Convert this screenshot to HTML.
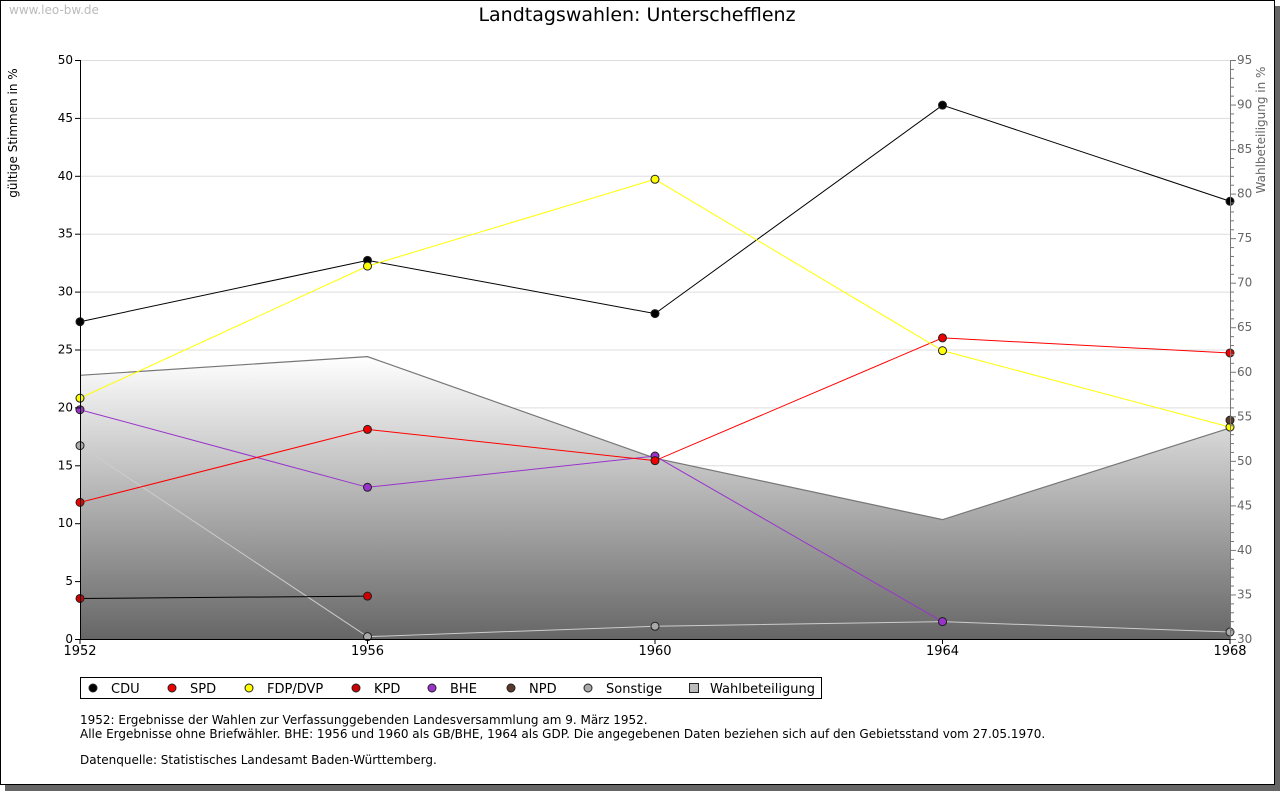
<!DOCTYPE html>
<html><head><meta charset="utf-8"><style>
body{margin:0;background:#fff;font-family:"Liberation Sans","DejaVu Sans",sans-serif;}
svg text{font-family:"DejaVu Sans","Liberation Sans",sans-serif;}
</style></head><body>
<svg id="chart" width="1280" height="791" xmlns="http://www.w3.org/2000/svg">
<defs><linearGradient id="wg" gradientUnits="userSpaceOnUse" x1="0" y1="357" x2="0" y2="639"><stop offset="0" stop-color="#fff"/><stop offset="1" stop-color="#666"/></linearGradient></defs>
<rect x="5" y="6" width="1275" height="785" fill="#666"/>
<rect x="0.5" y="0.5" width="1274" height="784" fill="#fff" stroke="#000"/>
<text x="9" y="14" font-size="12" fill="#bbb">www.leo-bw.de</text>
<text x="637" y="21" font-size="19" text-anchor="middle">Landtagswahlen: Unterschefflenz</text>
<text transform="translate(17,133) rotate(-90)" font-size="12" text-anchor="middle">gültige Stimmen in %</text>
<text transform="translate(1265,130) rotate(-90)" font-size="12" fill="#666" text-anchor="middle">Wahlbeteiligung in %</text>
<g id="grid"></g><g id="area"></g><g id="lines"></g><g id="axes"></g>
<g>
<rect x="80.5" y="677.5" width="741" height="21" fill="#fff" stroke="#000"/>
<g id="legend"></g></g>
<text x="80" y="724" font-size="12">1952: Ergebnisse der Wahlen zur Verfassunggebenden Landesversammlung am 9. März 1952.</text>
<text x="80" y="738" font-size="12">Alle Ergebnisse ohne Briefwähler. BHE: 1956 und 1960 als GB/BHE, 1964 als GDP. Die angegebenen Daten beziehen sich auf den Gebietsstand vom 27.05.1970.</text>
<text x="80" y="764" font-size="12">Datenquelle: Statistisches Landesamt Baden-Württemberg.</text>
</svg>
<script>
const years=[1952,1956,1960,1964,1968];
const cdu=[27.4,32.7,28.1,46.1,37.8];
const spd=[11.8,18.1,15.4,26.0,24.7];
const fdp=[20.8,32.2,39.7,24.9,18.3];
const kpd=[3.5,3.7,null,null,null];
const bhe=[19.8,13.1,15.8,1.5,null];
const npd=[null,null,null,null,18.9];
const sonst=[16.7,0.2,1.1,1.5,0.6];
const turnout=[59.6,61.7,50.3,43.4,53.7];
const leftTicks=[0,5,10,15,20,25,30,35,40,45,50];
const rightTicks=[30,35,40,45,50,55,60,65,70,75,80,85,90,95];
const NS="http://www.w3.org/2000/svg";
const X0=80,X1=1230,Y0=639,Y1=60;
const xs=y=>X0+(y-1952)/(1968-1952)*(X1-X0);
const ys=v=>Y0-v/50*(Y0-Y1);
const ys2=v=>Y0-(v-30)/65*(Y0-Y1);
function el(t,a,p){const e=document.createElementNS(NS,t);for(const k in a)e.setAttribute(k,a[k]);document.getElementById(p).appendChild(e);return e;}
leftTicks.forEach(t=>{
 if(t>0){const g=el('line',{x1:X0,x2:X1,y1:ys(t)+.5,y2:ys(t)+.5,stroke:'#ddd'},'grid');
 
 }
 el('line',{x1:X0-5,x2:X0,y1:ys(t)+.5,y2:ys(t)+.5,stroke:'#000'},'axes');
 const tx=el('text',{x:X0-7,y:ys(t)+4,'font-size':12,'text-anchor':'end'},'axes');tx.textContent=t;
 
 
});
for(let v=30;v<=95;v++){el('line',{x1:X1,x2:X1+(v%5?4:6),y1:ys2(v)+.5,y2:ys2(v)+.5,stroke:'#777'},'axes');}
rightTicks.forEach(t=>{const tx=el('text',{x:X1+7,y:ys2(t)+4,'font-size':12,fill:'#666'},'axes');tx.textContent=t;
 
 });
years.forEach(y=>{el('line',{x1:xs(y),x2:xs(y),y1:Y0,y2:Y0+5,stroke:'#000'},'axes');
 const tx=el('text',{x:xs(y),y:Y0+16,'font-size':13,'text-anchor':'middle'},'axes');tx.textContent=y;
 
 });
el('line',{x1:X0+.5,x2:X0+.5,y1:Y1,y2:Y0,stroke:'#000'},'axes');
el('line',{x1:X1+.5,x2:X1+.5,y1:Y1,y2:Y0,stroke:'#777'},'axes');
el('line',{x1:X0,x2:X1,y1:Y0+.5,y2:Y0+.5,stroke:'#000'},'axes');
let d='M'+xs(years[0])+','+Y0;years.forEach((y,i)=>d+=' L'+xs(y)+','+ys2(turnout[i]));d+=' L'+xs(years[4])+','+Y0+'Z';
const a=el('path',{d:d,fill:'url(#wg)'},'area');


let d2='';years.forEach((y,i)=>d2+=(i?' L':'M')+xs(y)+','+ys2(turnout[i]));
el('path',{d:d2,fill:'none',stroke:'#777','stroke-width':1.2},'area');
const series=[['cdu',cdu,'#000','#000'],['sonstige',sonst,'#ccc','#aaa'],['kpd',kpd,'#000','#c00'],['bhe',bhe,'#9933cc','#9933cc'],['spd',spd,'#f00','#e00'],['fdp',fdp,'#ff0','#ff0'],['npd',npd,'#5a3a2a','#5a3a2a']];
series.forEach(([n,vals,lc,mc])=>{
 let p='';let first=true;vals.forEach((v,i)=>{if(v==null)return;p+=(first?'M':' L')+xs(years[i])+','+ys(v);first=false;});
 const l=el('path',{d:p,fill:'none',stroke:lc,'stroke-width':1},'lines');
 
 
 vals.forEach((v,i)=>{if(v==null)return;const cx=xs(years[i]),cy=ys(v);
  const m=el('circle',{cx:cx,cy:cy,r:4,fill:mc,stroke:'#222','stroke-width':1},'lines');
  
  });
});
const leg=[['CDU','#000',89],['SPD','#e00',168],['FDP/DVP','#ff0',245],['KPD','#c00',352],['BHE','#9933cc',428],['NPD','#5a3a2a',507],['Sonstige','#aaa',584]];
leg.forEach(([t,c,x])=>{const m=el('circle',{cx:x+4,cy:688,r:4,fill:c,stroke:'#222'},'legend');
 
 
 const tx=el('text',{x:x+22,y:693,'font-size':13},'legend');tx.textContent=t;
 
 });
el('rect',{x:689.5,y:683.5,width:9,height:9,fill:'#bbb',stroke:'#222'},'legend');
const tw=el('text',{x:710,y:693,'font-size':13},'legend');tw.textContent='Wahlbeteiligung';


</script>
</body></html>
